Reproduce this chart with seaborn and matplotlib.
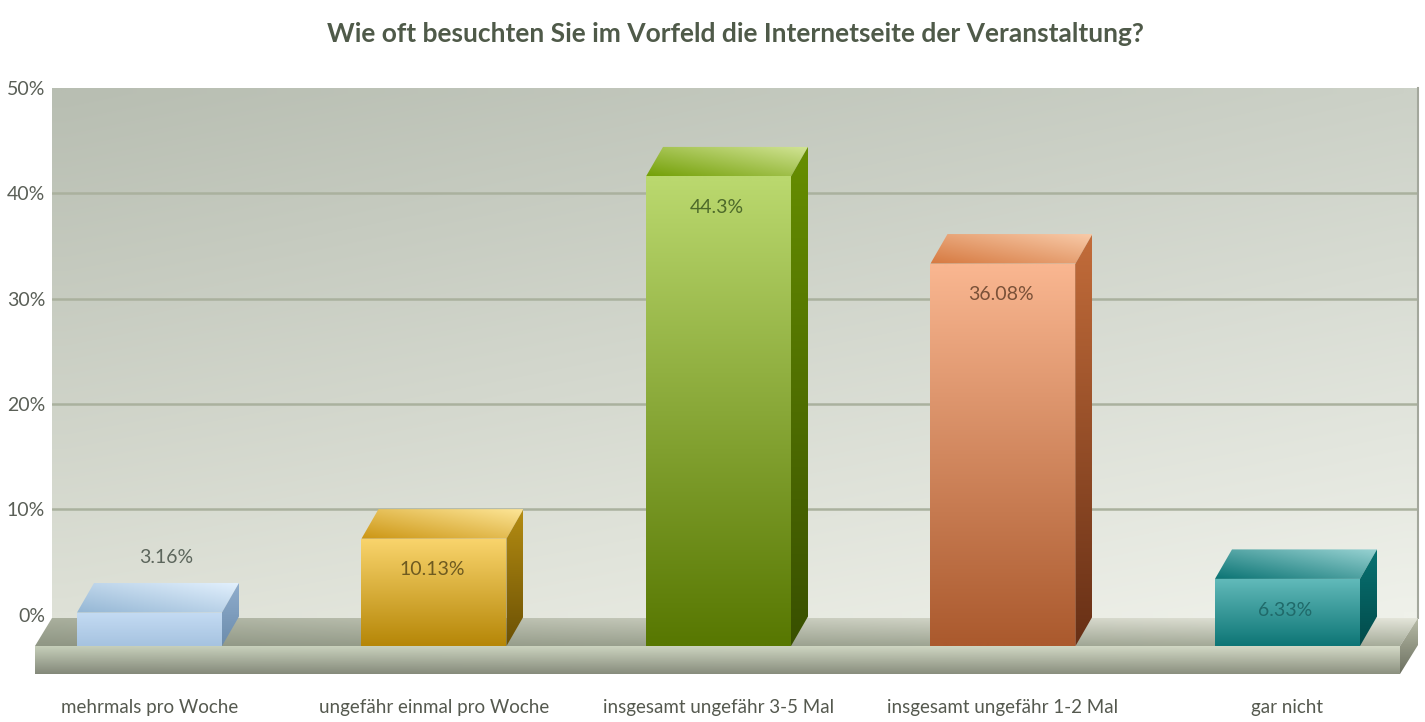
import numpy as np
import matplotlib
matplotlib.use("Agg")
import matplotlib.pyplot as plt
from matplotlib.colors import to_rgb
from matplotlib.patches import Polygon
import seaborn as sns

categories = ["mehrmals pro Woche", "ungefähr einmal pro Woche", "insgesamt ungefähr 3-5 Mal",
              "insgesamt ungefähr 1-2 Mal", "gar nicht"]
values = [3.16, 10.13, 44.3, 36.08, 6.33]
value_labels = ["3.16%", "10.13%", "44.3%", "36.08%", "6.33%"]
y_ticks = [0, 10, 20, 30, 40, 50]
y_tick_labels = ["0%", "10%", "20%", "30%", "40%", "50%"]
title = "Wie oft besuchten Sie im Vorfeld die Internetseite der Veranstaltung?"

# styles: (front top, front bottom), (top-face left, top-face right), (side top, side bottom)
mid_colors = ["#b5cfe9", "#e0b03c", "#8fb03a", "#d48a5e", "#3a9a9a"]
front_cols = [("#c4dbf3", "#a6c3e0"), ("#f9d46c", "#b68708"), ("#bad86e", "#587802"),
              ("#f9b690", "#ab5a2e"), ("#62baba", "#0e7676")]
top_cols = [("#94b6d4", "#e2f0fd"), ("#cc9614", "#fde596"), ("#74a008", "#d2e496"),
            ("#d67940", "#f8caa8"), ("#0b7474", "#98d2d2")]
side_cols = [("#8fadcd", "#6c8cac"), ("#b48c12", "#6c5104"), ("#668e00", "#395000"),
             ("#c26c3a", "#683016"), ("#087272", "#024b4b")]
label_cols = ["#5c665c", "#6e5a20", "#4d6a2a", "#7a5138", "#206a6a"]

W, H = 1425, 722
PX_PER_PCT = 10.6
PX_PER_CAT = 284.5
BAR0_PX, BASE_PX = 149.5, 646
LABEL_FONT = ["Lato", "DejaVu Sans"]


def grad(tl, tr, bl, br, n=48):
    tl, tr, bl, br = (np.array(to_rgb(c)) for c in (tl, tr, bl, br))
    u = np.linspace(0, 1, n)[None, :, None]
    v = np.linspace(0, 1, n)[:, None, None]
    return np.clip((1 - v) * ((1 - u) * tl + u * tr) + v * ((1 - u) * bl + u * br), 0, 1)


sns.set_theme(style="white")
plt.rcParams["font.family"] = LABEL_FONT
fig = plt.figure(figsize=(W / 100, H / 100), dpi=100, facecolor="white")

# back wall
ax_wall = fig.add_axes([52 / W, 1 - 618 / H, (1418 - 52) / W, (618 - 88) / H])
ax_wall.imshow(grad("#b8beb2", "#ccd1c7", "#dee1d7", "#eff1ea"), extent=(0, 1, -0.3, 50),
               aspect="auto", zorder=0, interpolation="bilinear")
ax_wall.set_xlim(0, 1)
ax_wall.set_ylim(-0.3, 50)
ax_wall.set_xticks([])
ax_wall.set_yticks(y_ticks, y_tick_labels)
ax_wall.grid(axis="y", color="#aab19e", lw=1.8, zorder=1)
ax_wall.yaxis.get_gridlines()[-1].set_visible(False)
ax_wall.yaxis.get_gridlines()[0].set_visible(False)
ax_wall.tick_params(axis="y", length=0, pad=5, labelsize=14, labelcolor="#5a5f57")
for s in ("top", "bottom", "left"):
    ax_wall.spines[s].set_visible(False)
ax_wall.spines["right"].set(color="#a3a79c", lw=1.5)
ax_wall.set_title(title, fontsize=19, fontweight="bold", color="#4f5a49", pad=33)

# front plane: full-figure axes, data scale matches bars
ax = fig.add_axes([0, 0, 1, 1])
ax.patch.set_visible(False)
sns.barplot(x=categories, y=values, hue=categories, palette=mid_colors, width=145 / PX_PER_CAT,
            legend=False, ax=ax, zorder=2, linewidth=0)

xlim = (-BAR0_PX / PX_PER_CAT, (W - BAR0_PX) / PX_PER_CAT)
ylim = (-(H - BASE_PX) / PX_PER_PCT, BASE_PX / PX_PER_PCT)
DX, DY = 17 / PX_PER_CAT, 29.5 / PX_PER_PCT


def xp(px):
    return (px - BAR0_PX) / PX_PER_CAT


def yp(py):
    return (BASE_PX - py) / PX_PER_PCT


def paint(pts, img, z):
    pts = np.array(pts)
    extent = (pts[:, 0].min(), pts[:, 0].max(), pts[:, 1].min(), pts[:, 1].max())
    im = ax.imshow(img, extent=extent, aspect="auto", zorder=z, interpolation="bilinear")
    im.set_clip_path(Polygon(pts, closed=True, transform=ax.transData))


# floor slab
fl, fr, bl, br = xp(35), xp(1400), xp(52), xp(1418)
y_back, y_low = yp(618), yp(674)
paint([(bl, y_back), (br, y_back), (fr, 0), (fl, 0)],
      grad("#aab09e", "#e6e7dc", "#8f9684", "#a6ac9a"), 1)
paint([(fl, 0), (fr, 0), (fr, y_low), (fl, y_low)],
      grad("#c8d1bc", "#d6dcc9", "#84897a", "#8c9180"), 1)
paint([(fr, 0), (br, y_back), (br, yp(645)), (fr, y_low)],
      grad("#b9bda9", "#b9bda9", "#6c7060", "#6c7060"), 1)

# 3-D bars
bars = list(ax.patches)
for i, bar in enumerate(bars):
    x0, x1 = bar.get_x(), bar.get_x() + bar.get_width()
    h = bar.get_height()
    ft, fb = front_cols[i]
    tl, tr = top_cols[i]
    st, sb = side_cols[i]
    paint([(x0, 0), (x1, 0), (x1, h), (x0, h)], grad(ft, ft, fb, fb), 3)
    mix = tuple((np.array(to_rgb(tl)) + np.array(to_rgb(tr))) / 2)
    paint([(x0, h), (x1, h), (x1 + DX, h + DY), (x0 + DX, h + DY)], grad(mix, tr, tl, mix), 3)
    paint([(x1, 0), (x1, h), (x1 + DX, h + DY), (x1 + DX, DY)], grad(st, st, sb, sb), 3)

    above = h < 5
    ax.annotate(value_labels[i], xy=((x0 + x1) / 2, h),
                xytext=(12 if above else -1.5, 39.5 if above else -22.5),
                textcoords="offset points", ha="center", va="center", fontsize=14,
                color=label_cols[i], zorder=5)

ax.set_xlim(*xlim)
ax.set_ylim(*ylim)
ax.set_yticks([])
ax.set_xticks(range(len(categories)), categories)
ax.tick_params(axis="x", length=0, pad=-16.5, labelsize=13.5, labelcolor="#55594f")
for s in ax.spines.values():
    s.set_visible(False)
ax.set_xlabel("")
ax.set_ylabel("")

fig.savefig("out.png", dpi=100, facecolor="white")
